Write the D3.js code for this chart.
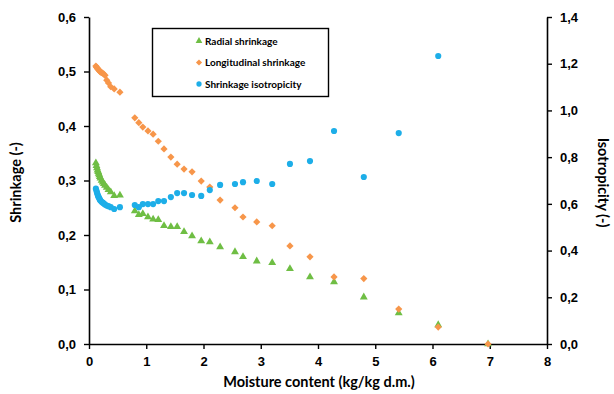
<!DOCTYPE html>
<html>
<head>
<meta charset="utf-8">
<script src="https://cdn.jsdelivr.net/npm/d3@7"></script>
<style>
  html, body { margin: 0; padding: 0; background: #fff; }
  svg { display: block; font-family: Lato, "Open Sans", sans-serif; font-weight: bold; }
</style>
</head>
<body>
<svg id="chart" width="614" height="394"></svg>
<script>
// Moisture content (kg/kg d.m.) of each measurement
const moisture = [0.12,0.13,0.14,0.15,0.16,0.17,0.18,0.19,0.20,0.22,0.24,0.26,0.28,0.31,0.34,0.38,0.44,0.54,
  0.80,0.87,0.94,1.03,1.12,1.21,1.31,1.43,1.54,1.66,1.80,1.96,2.11,2.29,2.55,2.69,
  2.93,3.20,3.51,3.86,4.28,4.80,5.41,6.10,6.97];

// Radial shrinkage (-)
const radial = [0.332,0.327,0.323,0.319,0.316,0.313,0.310,0.307,0.304,0.300,0.297,0.294,0.291,0.287,0.283,0.279,0.272,0.273,
  0.244,0.237,0.239,0.233,0.229,0.228,0.217,0.215,0.215,0.206,0.198,0.189,0.187,0.178,0.169,0.160,
  0.152,0.149,0.138,0.123,0.114,0.086,0.057,0.035,0.0];

// Longitudinal shrinkage (-)
const longitudinal = [0.510,0.508,0.507,0.505,0.504,0.503,0.502,0.500,0.499,0.498,0.497,0.495,0.493,0.484,0.479,0.472,0.468,0.462,
  0.415,0.406,0.398,0.391,0.385,0.372,0.358,0.343,0.330,0.321,0.316,0.299,0.288,0.264,0.250,0.233,
  0.224,0.217,0.180,0.160,0.123,0.120,0.064,0.031,0.0];

// Shrinkage isotropicity (-), right axis; undefined when both shrinkages are zero
const isotropicity = [0.665,0.656,0.648,0.640,0.633,0.628,0.623,0.618,0.614,0.609,0.605,0.601,0.597,0.593,0.590,0.586,0.578,0.586,
  0.595,0.586,0.599,0.599,0.599,0.612,0.612,0.629,0.646,0.646,0.638,0.634,0.659,0.681,0.685,0.693,
  0.698,0.685,0.771,0.783,0.912,0.715,0.903,1.233,null];

const xTicks = [0,1,2,3,4,5,6,7,8];
const leftTicks = [0,0.1,0.2,0.3,0.4,0.5,0.6];
const rightTicks = [0,0.2,0.4,0.6,0.8,1.0,1.2,1.4];

const seriesNames = ["Radial shrinkage", "Longitudinal shrinkage", "Shrinkage isotropicity"];
const colors = { radial: "#6fbe44", longitudinal: "#f7964a", iso: "#1daee8" };

const svg = d3.select("#chart");
const plotLeft = 89, plotRight = 547, plotTop = 17, plotBottom = 344;

const x = d3.scaleLinear().domain([0, 8]).range([plotLeft, plotRight]);
const yL = d3.scaleLinear().domain([0, 0.6]).range([plotBottom, plotTop]);
const yR = d3.scaleLinear().domain([0, 1.4]).range([plotBottom, plotTop]);

const comma = d => d3.format(".1f")(d).replace(".", ",");

function styleAxis(g) {
  g.selectAll(".domain").attr("stroke", "#000").attr("stroke-width", 1.6);
  g.selectAll(".tick line").attr("stroke", "#000").attr("stroke-width", 1.4);
  g.selectAll(".tick text").attr("fill", "#000").style("font-size", "13px").style("font-weight", "bold");
}

// X axis
svg.append("g").attr("transform", `translate(0,${plotBottom})`)
  .call(d3.axisBottom(x).tickValues(xTicks).tickFormat(d3.format("d")).tickSize(5).tickSizeOuter(0).tickPadding(8))
  .call(styleAxis);

// Left axis
svg.append("g").attr("transform", `translate(${plotLeft},0)`)
  .call(d3.axisLeft(yL).tickValues(leftTicks).tickFormat(comma).tickSize(5).tickSizeOuter(0).tickPadding(8))
  .call(styleAxis);

// Right axis
svg.append("g").attr("transform", `translate(${plotRight},0)`)
  .call(d3.axisRight(yR).tickValues(rightTicks).tickFormat(comma).tickSize(5).tickSizeOuter(0).tickPadding(8))
  .call(styleAxis);

// Axis titles
svg.append("text").attr("x", (plotLeft + plotRight) / 2 + 1).attr("y", 387)
  .attr("text-anchor", "middle").style("font-size", "14.5px").text("Moisture content (kg/kg d.m.)");
svg.append("text").attr("transform", `translate(21,${(plotTop + plotBottom) / 2 + 2}) rotate(-90)`)
  .attr("text-anchor", "middle").style("font-size", "14.5px").text("Shrinkage (-)");
svg.append("text").attr("transform", `translate(598,${(plotTop + plotBottom) / 2 + 2}) rotate(90)`)
  .attr("text-anchor", "middle").style("font-size", "14.5px").text("Isotropicity (-)");

const pts = moisture.map((m, i) => ({ m, r: radial[i], l: longitudinal[i], s: isotropicity[i] }));

const tri = d3.symbol(d3.symbolTriangle, 27)();
const dia = d3.symbol(d3.symbolSquare, 26)();
const cir = d3.symbol(d3.symbolCircle, 30)();

// Radial shrinkage
svg.append("g").selectAll("path").data(pts).join("path")
  .attr("d", tri).attr("fill", colors.radial)
  .attr("transform", d => `translate(${x(d.m)},${yL(d.r)})`);

// Longitudinal shrinkage
svg.append("g").selectAll("path").data(pts).join("path")
  .attr("d", dia).attr("fill", colors.longitudinal)
  .attr("transform", d => `translate(${x(d.m)},${yL(d.l)}) rotate(45)`);

// Isotropicity
svg.append("g").selectAll("path").data(pts.filter(d => d.s != null)).join("path")
  .attr("d", cir).attr("fill", colors.iso)
  .attr("transform", d => `translate(${x(d.m)},${yR(d.s)})`);

// Legend
const lg = svg.append("g");
lg.append("rect").attr("x", 152.5).attr("y", 28.5).attr("width", 176).attr("height", 68)
  .attr("fill", "#fff").attr("stroke", "#000").attr("stroke-width", 1.4);
const legendShapes = [
  { path: tri, color: colors.radial, rot: 0 },
  { path: dia, color: colors.longitudinal, rot: 45 },
  { path: cir, color: colors.iso, rot: 0 }
];
seriesNames.forEach((name, i) => {
  const yy = 41 + i * 21.5;
  lg.append("path").attr("d", legendShapes[i].path).attr("fill", legendShapes[i].color)
    .attr("transform", `translate(199,${yy}) rotate(${legendShapes[i].rot}) scale(0.85)`);
  lg.append("text").attr("x", 205).attr("y", yy + 3.5).style("font-size", "10px").text(name);
});
</script>
</body>
</html>
